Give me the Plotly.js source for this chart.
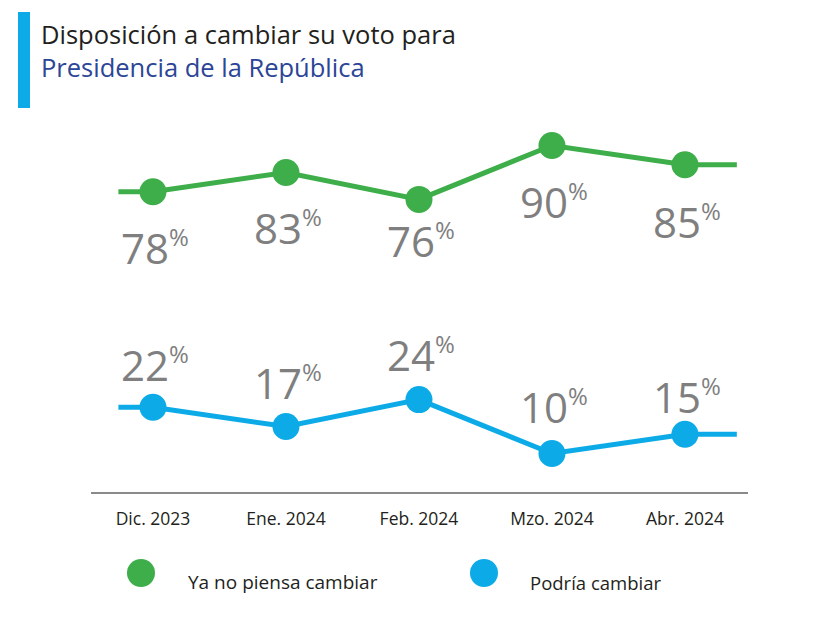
<!DOCTYPE html>
<html>
<head>
<meta charset="utf-8">
<script src="https://cdn.plot.ly/plotly-3.0.1.min.js"></script>
<style>html,body{margin:0;padding:0;background:#fff;}#chart{width:821px;height:635px;}</style>
</head>
<body>
<div id="chart"></div>
<script>
// ---- data ----
var months = ["Dic. 2023", "Ene. 2024", "Feb. 2024", "Mzo. 2024", "Abr. 2024"];
var yaNoPiensa = [78, 83, 76, 90, 85];
var podriaCambiar = [22, 17, 24, 10, 15];
var seriesNames = ["Ya no piensa cambiar", "Podría cambiar"];

// ---- style ----
var GREEN = "#3dae49", BLUE = "#0cabe8", GRAY = "#7f7f7f", DARK = "#231f20";
var FONT = "Open Sans, sans-serif";
var leadIn = 0.26, leadOut = 0.39;
// per-label vertical offsets in pixels (label placement as in the original design)
var greenLabelShift = [-56, -55, -41, -56, -57];
var blueLabelShift = [43, 44, 45, 47, 38];

var idx = months.map(function (_, i) { return i; });
function extX() { return [-leadIn].concat(idx, [idx.length - 1 + leadOut]); }
function extY(v) { return [v[0]].concat(v, [v[v.length - 1]]); }
function labelText(d) { return d + '<sup><span style="font-size:24px">%</span></sup>'; }
function labelAnns(v, shifts) {
  return v.map(function (d, i) {
    return { x: i, y: d, xref: "x", yref: "y", yshift: shifts[i], xshift: 2, showarrow: false,
      xanchor: "center", yanchor: "middle", text: labelText(d),
      font: { family: FONT, size: 42, color: GRAY } };
  });
}

var traces = [
  { x: extX(), y: extY(yaNoPiensa), mode: "lines", line: { color: GREEN, width: 5 }, hoverinfo: "skip", showlegend: false },
  { x: extX(), y: extY(podriaCambiar), mode: "lines", line: { color: BLUE, width: 5 }, hoverinfo: "skip", showlegend: false },
  { x: idx, y: yaNoPiensa, name: seriesNames[0], mode: "markers", marker: { color: GREEN, size: 27 }, showlegend: false },
  { x: idx, y: podriaCambiar, name: seriesNames[1], mode: "markers", marker: { color: BLUE, size: 27 }, showlegend: false }
];

var layout = {
  width: 821, height: 635,
  margin: { l: 91, r: 73, t: 107, b: 143 },
  paper_bgcolor: "#fff", plot_bgcolor: "#fff",
  font: { family: FONT, color: DARK },
  showlegend: false,
  xaxis: {
    range: [-0.466, 4.474], tickvals: idx, ticktext: months,
    showgrid: false, zeroline: false, showline: true, linecolor: "#8a8a8a", linewidth: 2,
    ticks: "", ticklabelstandoff: 10, tickfont: { family: FONT, size: 17.5, color: DARK }, fixedrange: true
  },
  yaxis: { range: [0, 100], visible: false, fixedrange: true },
  shapes: [
    { type: "rect", xref: "paper", yref: "paper", xsizemode: "pixel", ysizemode: "pixel", xanchor: 0, yanchor: 1,
      x0: -73, x1: -61, y0: -1, y1: 95, fillcolor: BLUE, line: { width: 0 } },
    { type: "circle", xref: "paper", yref: "paper", xsizemode: "pixel", ysizemode: "pixel", xanchor: 0, yanchor: 0,
      x0: 36, x1: 64, y0: -95, y1: -67, fillcolor: GREEN, line: { width: 0 } },
    { type: "circle", xref: "paper", yref: "paper", xsizemode: "pixel", ysizemode: "pixel", xanchor: 0, yanchor: 0,
      x0: 379, x1: 407, y0: -95, y1: -67, fillcolor: BLUE, line: { width: 0 } }
  ],
  annotations: [
    { xref: "paper", yref: "paper", x: 0, y: 1, xshift: -52, yshift: 57, xanchor: "left", yanchor: "middle", align: "left",
      showarrow: false,
      text: 'Disposición a cambiar su voto para<br><span style="color:#2c4596">Presidencia de la República</span>',
      font: { family: FONT, size: 25.5, color: DARK } },
    { xref: "paper", yref: "paper", x: 0, y: 0, xshift: 95, yshift: -90, xanchor: "left", yanchor: "middle", showarrow: false,
      text: seriesNames[0], font: { family: FONT, size: 19, color: DARK } },
    { xref: "paper", yref: "paper", x: 0, y: 0, xshift: 437, yshift: -90, xanchor: "left", yanchor: "middle", showarrow: false,
      text: seriesNames[1], font: { family: FONT, size: 18.5, color: DARK } }
  ].concat(labelAnns(yaNoPiensa, greenLabelShift), labelAnns(podriaCambiar, blueLabelShift))
};

Plotly.newPlot("chart", traces, layout, { displayModeBar: false, staticPlot: true });
</script>
</body>
</html>
